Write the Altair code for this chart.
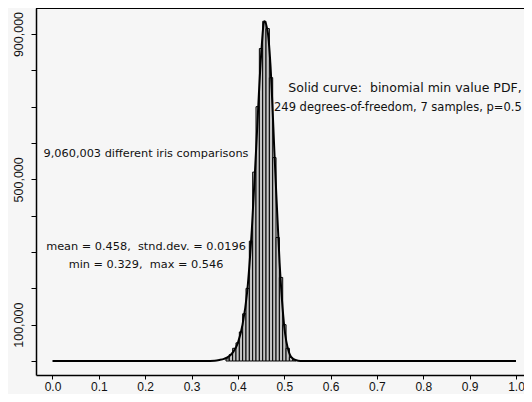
import altair as alt
import pandas as pd

# ---- data ----
bin_width = 0.0072
bin_lo = [0.3743, 0.3815, 0.3887, 0.3959, 0.4031, 0.4103, 0.4175, 0.4247, 0.4319, 0.4391,
          0.4463, 0.4535, 0.4607, 0.4679, 0.4751, 0.4823, 0.4895, 0.4967, 0.5039, 0.5111, 0.5183]
counts = [6000, 18000, 35000, 50000, 80000, 130000, 200000, 330000, 520000, 700000,
          860000, 935000, 915000, 780000, 560000, 340000, 230000, 100000, 35000, 10000, 3000]

curve_x = [0.0, 0.33, 0.35, 0.36, 0.37, 0.38, 0.39, 0.40, 0.41, 0.42, 0.43, 0.44, 0.45,
           0.457, 0.465, 0.47, 0.48, 0.49, 0.50, 0.51, 0.52, 0.53, 0.54, 1.0]
curve_y = [0, 0, 1000, 3000, 6000, 12000, 25000, 50000, 100000, 190000, 360000, 600000, 840000,
           935000, 900000, 820000, 540000, 270000, 95000, 25000, 5000, 1000, 0, 0]

x_ticks = [0.0, 0.1, 0.2, 0.3, 0.4, 0.5, 0.6, 0.7, 0.8, 0.9, 1.0]
y_ticks = [0, 100000, 200000, 300000, 400000, 500000, 600000, 700000, 800000, 900000]
y_labelled = [100000, 500000, 900000]

NB = "\u00a0"
title_line1 = f"Solid curve:{NB} binomial min value PDF,"
title_line2 = "249 degrees-of-freedom, 7 samples, p=0.5"
note_n = "9,060,003 different iris comparisons"
note_stats1 = f"mean = 0.458,{NB} stnd.dev. = 0.0196"
note_stats2 = f"min = 0.329,{NB} max = 0.546"

# ---- tables ----
bars = pd.DataFrame({
    "lo": bin_lo,
    "hi": [b + bin_width for b in bin_lo],
    "count": counts,
})
curve = pd.DataFrame({"x": curve_x, "y": curve_y})

W, H = 488, 367
FONT = "Liberation Sans"
TFONT = "DejaVu Sans"

xscale = alt.Scale(domain=[-0.0356, 1.0173], nice=False, zero=False)
yscale = alt.Scale(domain=[-38500, 971600], nice=False, zero=False)

label_expr = " || ".join(f"datum.value == {v}" for v in y_labelled)

xaxis = alt.Axis(values=x_ticks, format=".1f", title=None, grid=False,
                 tickSize=4, tickColor="black", domainColor="black", domainWidth=1.5,
                 labelFont=FONT, labelFontSize=12, labelColor="#111", labelPadding=2)
yaxis = alt.Axis(values=y_ticks, title=None, grid=False,
                 labelExpr=f"({label_expr}) ? format(datum.value, ',') : ''",
                 labelAngle=270, labelAlign="center", labelBaseline="bottom",
                 tickSize=5, tickColor="black", domainColor="black", domainWidth=1.5,
                 labelFont=FONT, labelFontSize=12.5, labelColor="#111", labelPadding=6)

hist = alt.Chart(bars).mark_bar(fill="#c4c4c4", stroke="black", strokeWidth=1).encode(
    x=alt.X("lo:Q", scale=xscale, axis=xaxis),
    x2="hi:Q",
    y=alt.Y("count:Q", scale=yscale, axis=yaxis),
    y2=alt.datum(0),
)

line = alt.Chart(curve).mark_line(color="black", strokeWidth=2, interpolate="monotone").encode(
    x=alt.X("x:Q", scale=xscale),
    y=alt.Y("y:Q", scale=yscale),
)

top_rule = alt.Chart(pd.DataFrame({"a": [0]})).mark_rule(color="black", strokeWidth=2).encode(
    x=alt.value(0), x2=alt.value(W), y=alt.value(0)
)

def txt(s, px, py, size=11.5, align="center"):
    return alt.Chart(pd.DataFrame({"t": [s]})).mark_text(
        font=TFONT, fontSize=size, color="#111", align=align, baseline="middle"
    ).encode(text="t:N", x=alt.value(px), y=alt.value(py))

chart = alt.layer(
    hist, line, top_rule,
    txt(title_line1, 369, 80, 12.5),
    txt(title_line2, 238, 100, 11.5, "left"),
    txt(note_n, 110, 146, 11.3),
    txt(note_stats1, 110, 239, 11.3),
    txt(note_stats2, 110, 257, 11.3),
).properties(
    width=W, height=H,
    autosize=alt.AutoSizeParams(type="none"),
    padding={"left": 28, "top": 0, "right": 0, "bottom": 19},
    background="#f6f6f6",
).configure_view(strokeWidth=0)

chart.save("out.html", embed_options={"renderer": "svg", "actions": False})
